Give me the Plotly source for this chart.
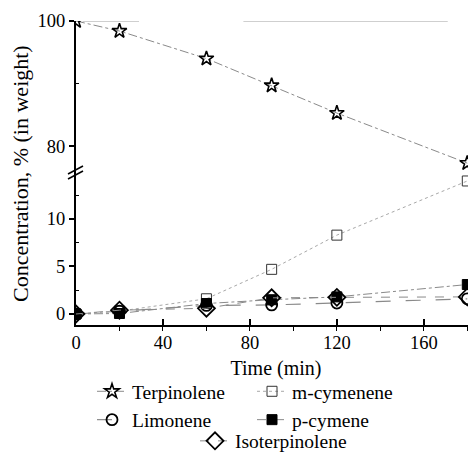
import plotly.graph_objects as go

times = [0, 20, 60, 90, 120, 180]
terpinolene = [100, 98.4, 94.0, 89.7, 85.3, 77.3]
m_cymenene = [0, 0.3, 1.6, 4.7, 8.3, 14.0]
limonene = [0, 0.3, 0.9, 0.95, 1.15, 1.6]
p_cymene = [0, 0.05, 1.1, 1.5, 1.8, 3.1]
isoterpinolene = [0, 0.4, 0.6, 1.7, 1.75, 1.8]

ref_line_x = [3, 29, None, 77, 171]
ref_line_y = [100, 100, None, 100, 100]

x_ticks = [0, 40, 80, 120, 160]
y_top_ticks = [80, 100]
y_bot_ticks = [0, 5, 10]

FONT = "Liberation Serif"
GRAY = "#8a8a8a"

fig = go.Figure()

fig.add_trace(go.Scatter(x=ref_line_x, y=ref_line_y, yaxis="y2", mode="lines",
                         line=dict(color="#a0a0a0", width=1.2), showlegend=False,
                         hoverinfo="skip"))

fig.add_trace(go.Scatter(
    x=times, y=terpinolene, yaxis="y2", name="Terpinolene", mode="lines+markers",
    line=dict(color=GRAY, width=1, dash="dashdot"),
    marker=dict(symbol="star-open", size=11, color="black", line=dict(width=1.6, color="black")),
    legend="legend"))
fig.add_trace(go.Scatter(
    x=times, y=m_cymenene, name="m-cymenene", mode="lines+markers",
    line=dict(color="#a8a8a8", width=1, dash="dot"),
    marker=dict(symbol="square-open", size=10, color="#333", line=dict(width=1, color="#333")),
    legend="legend"))
fig.add_trace(go.Scatter(
    x=times, y=limonene, name="Limonene", mode="lines+markers",
    line=dict(color=GRAY, width=1.2, dash="longdash"),
    marker=dict(symbol="circle-open", size=11, color="black", line=dict(width=1.8, color="black")),
    legend="legend"))
fig.add_trace(go.Scatter(
    x=times, y=p_cymene, name="p-cymene", mode="lines+markers",
    line=dict(color=GRAY, width=1, dash="dashdot"),
    marker=dict(symbol="square", size=10, color="black", line=dict(width=1, color="black")),
    legend="legend"))
fig.add_trace(go.Scatter(
    x=times, y=isoterpinolene, name="Isoterpinolene", mode="lines+markers",
    line=dict(color=GRAY, width=1, dash="dash"),
    marker=dict(symbol="diamond-open", size=13, color="black", line=dict(width=1.8, color="black")),
    legend="legend2"))

axis_common = dict(showline=True, linecolor="black", linewidth=2, showgrid=False,
                   zeroline=False, tickfont=dict(family=FONT, size=18.5, color="black"),
                   tickcolor="black", automargin=False)

fig.update_layout(
    width=468, height=454,
    margin=dict(l=68, r=0, t=13, b=137, autoexpand=False),
    paper_bgcolor="white", plot_bgcolor="white",
    font=dict(family=FONT, size=18, color="black"),
    xaxis=dict(**axis_common, range=[0, 184], tickvals=x_ticks, ticks="inside", ticklen=6,
               tickwidth=1.5, anchor="y",
               minor=dict(dtick=20, tick0=0, ticks="outside", ticklen=4, tickcolor="black", tickwidth=1.2),
               title=dict(text="Time (min)", font=dict(family=FONT, size=20), standoff=9)),
    yaxis=dict(**axis_common, domain=[0, 0.5], range=[-1.16, 14.84], tickvals=y_bot_ticks,
               ticks="outside", ticklen=5, tickwidth=1.5, anchor="x",
               minor=dict(tickvals=[2.5, 7.5, 12.5], ticks="inside", ticklen=3, tickcolor="black", tickwidth=1.2)),
    yaxis2=dict(**axis_common, domain=[0.5, 1], range=[75.73, 100], tickvals=y_top_ticks,
                ticks="outside", ticklen=5, tickwidth=1.5, anchor="x",
                minor=dict(tickvals=[90], ticks="inside", ticklen=3, tickcolor="black", tickwidth=1.2)),
    legend=dict(orientation="h", x=0.04, xanchor="left", y=-0.155, yanchor="top",
                entrywidth=115, entrywidthmode="pixels", bgcolor="rgba(0,0,0,0)",
                font=dict(family=FONT, size=19.5, color="black"), tracegroupgap=0),
    legend2=dict(orientation="h", x=0.2975, xanchor="left", y=-0.318, yanchor="top",
                 bgcolor="rgba(0,0,0,0)", font=dict(family=FONT, size=19.5, color="black")),
    annotations=[dict(text="Concentration, % (in weight)", textangle=-90, xref="paper", yref="paper",
                      x=-0.1375, y=0.497, xanchor="center", yanchor="middle", showarrow=False,
                      font=dict(family=FONT, size=22, color="#000000"))],
    shapes=[
        dict(type="line", xref="paper", yref="paper", x0=(68 - 76) / 400, y0=(325 - 174) / 304,
             x1=(83 - 76) / 400, y1=(325 - 166) / 304, line=dict(color="black", width=1.5)),
        dict(type="line", xref="paper", yref="paper", x0=(68 - 76) / 400, y0=(325 - 179) / 304,
             x1=(83 - 76) / 400, y1=(325 - 171) / 304, line=dict(color="black", width=1.5)),
    ],
)

fig.write_html("out.html")
